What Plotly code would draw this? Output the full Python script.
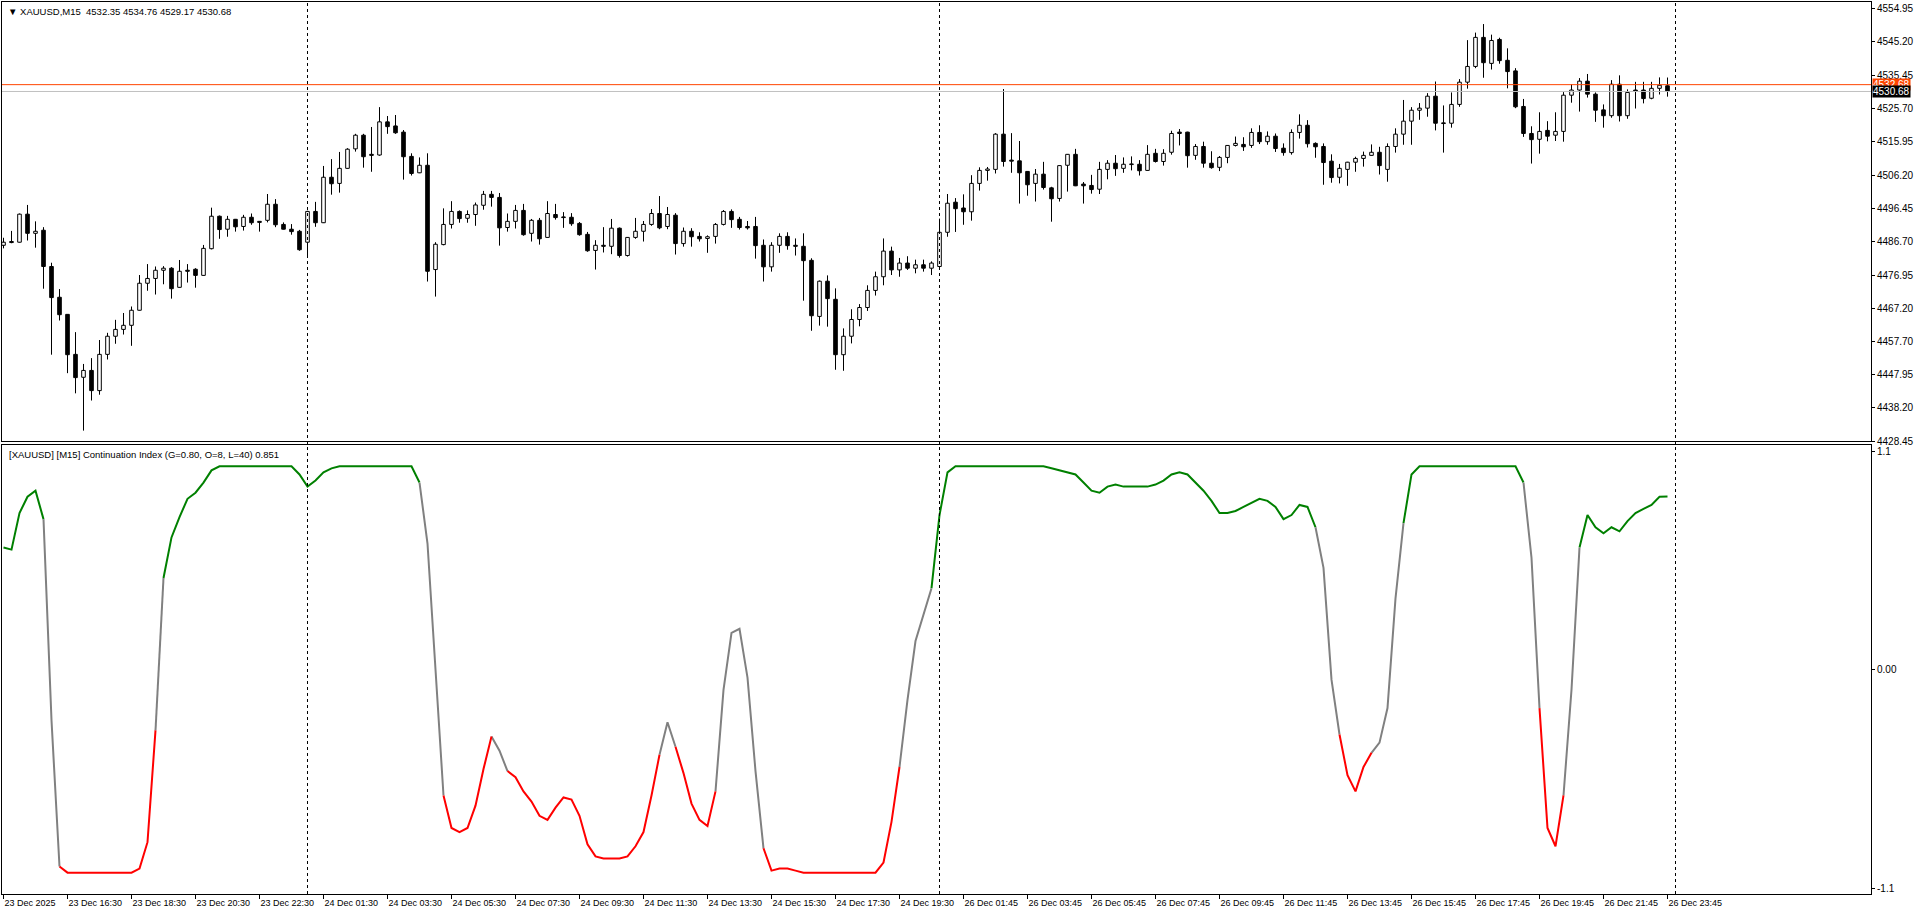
import plotly.graph_objects as go

# ---------------- data (XAUUSD M15 candles, bar index 0 = 23 Dec 14:30) ----------------
opens = [
    4485.7, 4486.8, 4486.6, 4494.8, 4489.2, 4490.1, 4479.5, 4470.5, 4465.5, 4453.8,
    4447.1, 4449.1, 4443.2, 4453.8, 4459.1, 4461.1, 4462.3, 4466.7, 4474.6, 4476.0,
    4478.4, 4479.0, 4473.4, 4478.4, 4478.7, 4476.9, 4484.7, 4494.2, 4490.4, 4493.3,
    4491.2, 4493.9, 4492.7, 4493.0, 4497.7, 4491.8, 4490.4, 4489.8, 4486.6, 4495.6,
    4492.3, 4505.6, 4503.8, 4508.2, 4513.9, 4517.9, 4512.3, 4512.1, 4521.8, 4520.6,
    4518.8, 4511.7, 4506.9, 4509.1, 4478.6, 4485.9, 4491.8, 4495.6, 4493.6, 4494.7,
    4497.4, 4500.6, 4499.7, 4490.9, 4492.7, 4495.9, 4489.2, 4493.0, 4488.0, 4494.7,
    4494.0, 4493.9, 4492.1, 4488.9, 4484.2, 4485.7, 4485.4, 4490.7, 4482.7, 4488.0,
    4489.8, 4491.8, 4495.0, 4491.2, 4494.5, 4486.2, 4489.8, 4488.3, 4487.7, 4488.3,
    4491.8, 4495.6, 4493.3, 4491.2, 4491.2, 4485.7, 4479.4, 4485.7, 4488.3, 4485.7,
    4485.4, 4481.3, 4464.9, 4475.2, 4469.9, 4453.7, 4459.1, 4464.0, 4467.5, 4472.5,
    4476.5, 4484.0, 4478.5, 4480.5, 4479.0, 4480.0, 4479.0, 4479.5, 4489.5, 4498.3,
    4496.6, 4495.5, 4503.8, 4507.6, 4507.9, 4518.2, 4510.6, 4510.4, 4507.3, 4503.8,
    4506.5, 4502.5, 4499.4, 4509.1, 4512.3, 4503.6, 4503.2, 4502.1, 4507.9, 4509.7,
    4508.2, 4509.3, 4509.4, 4507.6, 4512.6, 4510.2, 4512.9, 4518.8, 4518.8, 4512.0,
    4514.6, 4509.7, 4508.5, 4511.4, 4514.9, 4515.2, 4514.9, 4518.7, 4516.0, 4517.6,
    4514.1, 4512.8, 4518.7, 4520.8, 4515.5, 4514.6, 4510.3, 4505.6, 4507.9, 4510.0,
    4511.1, 4512.0, 4512.9, 4507.9, 4514.6, 4518.2, 4522.0, 4525.2, 4525.8, 4529.3,
    4521.5, 4521.4, 4526.9, 4533.4, 4538.0, 4546.5, 4538.9, 4545.9, 4539.8, 4536.7,
    4526.3, 4518.4, 4516.7, 4519.3, 4517.9, 4519.0, 4529.6, 4531.1, 4533.7, 4529.9,
    4525.3, 4523.6, 4532.8, 4523.6, 4531.1, 4531.1, 4528.7, 4531.6, 4532.35,
]
highs = [
    4487.9, 4489.9, 4495.0, 4497.5, 4492.7, 4491.0, 4480.6, 4472.9, 4465.6, 4460.3,
    4451.0, 4452.7, 4458.0, 4460.1, 4463.9, 4465.9, 4467.8, 4477.0, 4480.2, 4479.5,
    4479.6, 4479.3, 4481.4, 4480.2, 4479.0, 4485.8, 4496.7, 4494.4, 4494.3, 4493.4,
    4494.6, 4495.0, 4492.8, 4500.7, 4499.2, 4492.4, 4491.9, 4490.2, 4495.8, 4498.4,
    4508.9, 4510.9, 4513.0, 4514.1, 4518.3, 4518.3, 4520.3, 4526.1, 4523.5, 4523.8,
    4519.4, 4512.6, 4511.4, 4512.6, 4486.6, 4496.5, 4498.6, 4495.9, 4495.9, 4498.2,
    4501.6, 4501.6, 4501.0, 4495.0, 4497.5, 4497.8, 4493.4, 4493.7, 4498.6, 4497.8,
    4495.4, 4495.1, 4492.5, 4489.6, 4487.2, 4491.0, 4493.4, 4490.9, 4488.1, 4493.7,
    4492.8, 4496.3, 4500.1, 4496.9, 4495.1, 4490.9, 4490.7, 4489.5, 4488.6, 4492.2,
    4496.0, 4496.2, 4494.0, 4492.8, 4494.0, 4487.4, 4486.6, 4489.2, 4489.5, 4487.7,
    4489.2, 4481.9, 4475.4, 4476.9, 4473.1, 4461.4, 4467.0, 4468.5, 4474.0, 4478.0,
    4487.7, 4485.3, 4482.0, 4482.5, 4481.5, 4481.5, 4481.0, 4493.5, 4500.7, 4499.5,
    4500.6, 4506.2, 4508.5, 4508.6, 4518.5, 4531.4, 4518.5, 4516.2, 4507.4, 4508.0,
    4510.1, 4502.8, 4509.1, 4512.4, 4513.9, 4504.2, 4506.3, 4510.1, 4510.6, 4512.1,
    4511.4, 4511.7, 4510.6, 4515.0, 4513.9, 4513.8, 4519.2, 4519.7, 4518.9, 4515.3,
    4516.0, 4513.2, 4511.8, 4515.0, 4517.5, 4517.3, 4519.9, 4520.8, 4519.0, 4518.4,
    4515.5, 4519.6, 4524.0, 4522.3, 4515.8, 4515.5, 4512.3, 4509.5, 4510.1, 4511.6,
    4513.1, 4515.2, 4514.5, 4515.5, 4519.9, 4528.2, 4526.1, 4527.3, 4530.2, 4533.6,
    4526.6, 4530.4, 4534.3, 4545.7, 4547.9, 4550.4, 4547.3, 4546.4, 4543.3, 4537.5,
    4528.5, 4520.5, 4524.6, 4522.0, 4524.6, 4530.5, 4532.8, 4534.6, 4535.8, 4530.4,
    4526.9, 4534.0, 4535.4, 4531.3, 4533.5, 4533.5, 4533.5, 4534.8, 4534.76,
]
lows = [
    4484.8, 4486.3, 4486.5, 4487.1, 4485.0, 4473.0, 4453.7, 4463.7, 4448.3, 4442.4,
    4431.5, 4440.3, 4442.0, 4452.3, 4456.9, 4459.6, 4456.3, 4466.6, 4472.4, 4471.3,
    4474.3, 4470.1, 4473.3, 4474.8, 4473.3, 4476.8, 4484.5, 4487.6, 4488.2, 4489.7,
    4490.0, 4491.7, 4489.7, 4492.4, 4491.0, 4490.3, 4488.8, 4484.1, 4482.4, 4491.1,
    4492.2, 4500.5, 4501.1, 4508.1, 4513.1, 4508.4, 4507.2, 4511.9, 4518.3, 4518.3,
    4504.9, 4506.1, 4506.8, 4475.1, 4470.7, 4485.7, 4490.6, 4492.3, 4492.3, 4491.4,
    4496.1, 4497.0, 4485.6, 4489.7, 4490.6, 4488.5, 4486.8, 4485.9, 4487.9, 4493.2,
    4490.8, 4491.4, 4488.5, 4483.8, 4478.6, 4483.6, 4483.1, 4482.1, 4482.4, 4487.6,
    4486.8, 4491.4, 4490.4, 4490.4, 4483.0, 4485.3, 4485.3, 4486.8, 4483.5, 4486.2,
    4491.5, 4490.8, 4490.3, 4490.3, 4481.8, 4475.1, 4478.0, 4483.5, 4484.4, 4482.7,
    4469.5, 4460.7, 4462.2, 4461.9, 4449.3, 4449.0, 4457.0, 4462.0, 4466.5, 4471.0,
    4474.0, 4477.0, 4476.5, 4478.5, 4477.5, 4478.0, 4477.0, 4478.5, 4488.2, 4489.6,
    4491.7, 4492.9, 4501.7, 4504.6, 4506.7, 4508.7, 4506.9, 4497.9, 4500.2, 4498.5,
    4502.0, 4492.6, 4498.5, 4501.4, 4503.0, 4497.9, 4500.8, 4500.7, 4505.0, 4506.0,
    4506.9, 4507.6, 4506.1, 4507.5, 4509.9, 4509.0, 4512.2, 4514.9, 4508.4, 4510.7,
    4508.4, 4508.1, 4507.4, 4509.7, 4514.6, 4513.3, 4514.2, 4515.3, 4515.1, 4513.0,
    4511.9, 4512.2, 4516.9, 4514.3, 4511.3, 4503.4, 4504.0, 4503.8, 4503.1, 4507.2,
    4508.7, 4511.9, 4506.4, 4504.3, 4512.8, 4515.1, 4515.1, 4522.4, 4523.3, 4519.3,
    4512.8, 4520.1, 4526.2, 4531.5, 4537.5, 4534.7, 4537.1, 4538.8, 4531.6, 4525.8,
    4517.4, 4509.6, 4512.5, 4516.1, 4516.2, 4516.0, 4527.4, 4524.8, 4528.9, 4521.8,
    4520.1, 4523.0, 4521.9, 4522.7, 4525.7, 4527.2, 4528.4, 4529.8, 4529.17,
]
closes = [
    4486.6, 4486.5, 4494.8, 4489.2, 4489.8, 4479.5, 4470.4, 4465.4, 4453.7, 4447.0,
    4449.1, 4443.2, 4453.8, 4459.1, 4461.1, 4462.3, 4466.7, 4474.6, 4476.0, 4478.4,
    4479.0, 4473.0, 4478.1, 4478.1, 4476.9, 4484.8, 4494.2, 4490.3, 4493.3, 4491.1,
    4493.9, 4492.3, 4492.4, 4497.7, 4491.7, 4490.4, 4489.7, 4484.4, 4495.6, 4492.3,
    4505.6, 4503.7, 4508.2, 4513.8, 4517.9, 4511.6, 4512.0, 4521.8, 4520.4, 4518.6,
    4511.6, 4506.7, 4509.1, 4478.1, 4486.0, 4491.8, 4495.6, 4493.5, 4494.7, 4497.5,
    4500.6, 4499.7, 4490.8, 4492.7, 4495.9, 4488.8, 4493.0, 4487.6, 4495.0, 4493.8,
    4493.8, 4492.0, 4488.8, 4484.1, 4485.7, 4485.4, 4490.7, 4482.7, 4488.0, 4489.8,
    4491.8, 4495.0, 4490.8, 4494.7, 4486.2, 4489.8, 4488.2, 4487.6, 4488.2, 4491.8,
    4495.6, 4493.2, 4490.9, 4490.8, 4485.6, 4479.4, 4485.7, 4488.3, 4485.6, 4485.4,
    4481.2, 4465.1, 4475.2, 4470.1, 4453.7, 4459.1, 4464.0, 4467.5, 4472.5, 4476.5,
    4484.0, 4478.5, 4480.5, 4479.0, 4480.0, 4479.0, 4480.5, 4489.5, 4498.0, 4496.4,
    4495.5, 4503.8, 4507.6, 4508.0, 4518.2, 4510.2, 4510.3, 4506.9, 4503.4, 4506.5,
    4502.6, 4499.3, 4509.0, 4512.3, 4503.1, 4503.1, 4502.0, 4507.9, 4509.7, 4508.1,
    4509.4, 4509.5, 4507.5, 4512.3, 4510.2, 4512.6, 4518.4, 4518.4, 4511.9, 4514.6,
    4509.7, 4508.4, 4511.4, 4514.9, 4515.5, 4514.5, 4518.7, 4516.0, 4517.6, 4514.0,
    4512.8, 4518.7, 4520.8, 4515.4, 4514.5, 4509.9, 4505.5, 4508.2, 4510.0, 4511.1,
    4512.0, 4512.9, 4509.0, 4514.6, 4518.2, 4522.0, 4525.2, 4525.8, 4529.3, 4521.4,
    4521.3, 4526.9, 4533.4, 4538.0, 4546.5, 4539.1, 4545.6, 4539.7, 4536.5, 4526.2,
    4518.4, 4516.6, 4519.0, 4517.6, 4519.0, 4529.6, 4531.1, 4533.7, 4529.9, 4525.2,
    4523.6, 4532.8, 4523.6, 4530.4, 4530.7, 4528.6, 4531.6, 4532.5, 4530.68,
]

# Continuation Index, one value per bar
ci_values = [
    0.60, 0.59, 0.77, 0.85, 0.88, 0.74, -0.25, -0.97, -1.00, -1.00,
    -1.00, -1.00, -1.00, -1.00, -1.00, -1.00, -1.00, -0.98, -0.85, -0.30,
    0.45, 0.65, 0.75, 0.84, 0.87, 0.92, 0.98, 1.00, 1.00, 1.00,
    1.00, 1.00, 1.00, 1.00, 1.00, 1.00, 1.00, 0.96, 0.90, 0.93,
    0.97, 0.99, 1.00, 1.00, 1.00, 1.00, 1.00, 1.00, 1.00, 1.00,
    1.00, 1.00, 0.92, 0.62, 0.00, -0.62, -0.78, -0.80, -0.78, -0.67,
    -0.49, -0.33, -0.40, -0.50, -0.53, -0.60, -0.65, -0.72, -0.74, -0.68,
    -0.63, -0.64, -0.72, -0.86, -0.92, -0.93, -0.93, -0.93, -0.92, -0.87,
    -0.80, -0.62, -0.42, -0.26, -0.38, -0.51, -0.66, -0.74, -0.77, -0.60,
    -0.10, 0.18, 0.20, -0.04, -0.50, -0.88, -0.99, -0.98, -0.98, -0.99,
    -1.00, -1.00, -1.00, -1.00, -1.00, -1.00, -1.00, -1.00, -1.00, -1.00,
    -0.95, -0.75, -0.48, -0.15, 0.14, 0.27, 0.40, 0.76, 0.97, 1.00,
    1.00, 1.00, 1.00, 1.00, 1.00, 1.00, 1.00, 1.00, 1.00, 1.00,
    1.00, 0.99, 0.98, 0.97, 0.96, 0.92, 0.88, 0.87, 0.90, 0.91,
    0.90, 0.90, 0.90, 0.90, 0.91, 0.93, 0.96, 0.97, 0.96, 0.92,
    0.88, 0.83, 0.77, 0.77, 0.78, 0.80, 0.82, 0.84, 0.83, 0.80,
    0.74, 0.76, 0.81, 0.80, 0.70, 0.50, -0.05, -0.32, -0.52, -0.60,
    -0.48, -0.41, -0.36, -0.19, 0.35, 0.72, 0.96, 1.00, 1.00, 1.00,
    1.00, 1.00, 1.00, 1.00, 1.00, 1.00, 1.00, 1.00, 1.00, 1.00,
    0.92, 0.55, -0.19, -0.78, -0.87, -0.62, -0.10, 0.60, 0.76, 0.70,
    0.67, 0.70, 0.68, 0.73, 0.77, 0.79, 0.81, 0.85, 0.851,
]
# colour state runs of the index line: g = trend (green), n = neutral (gray), r = range (red)
ci_state_runs = [
    ("g", 6), ("n", 2), ("r", 12), ("n", 1), ("g", 32), ("n", 3), ("r", 6), ("n", 2),
    ("r", 19), ("n", 2), ("r", 5), ("n", 6), ("r", 17), ("n", 4), ("g", 48), ("n", 3),
    ("r", 4), ("n", 4), ("g", 15), ("n", 2), ("r", 3), ("n", 2), ("g", 11),
]

time_tick_bars = [0, 8, 16, 24, 32, 40, 48, 56, 64, 72, 80, 88, 96, 104, 112,
                  120, 128, 136, 144, 152, 160, 168, 176, 184, 192, 200, 208]
time_tick_labels = [
    "23 Dec 2025", "23 Dec 16:30", "23 Dec 18:30", "23 Dec 20:30", "23 Dec 22:30",
    "24 Dec 01:30", "24 Dec 03:30", "24 Dec 05:30", "24 Dec 07:30", "24 Dec 09:30",
    "24 Dec 11:30", "24 Dec 13:30", "24 Dec 15:30", "24 Dec 17:30", "24 Dec 19:30",
    "26 Dec 01:45", "26 Dec 03:45", "26 Dec 05:45", "26 Dec 07:45", "26 Dec 09:45",
    "26 Dec 11:45", "26 Dec 13:45", "26 Dec 15:45", "26 Dec 17:45", "26 Dec 19:45",
    "26 Dec 21:45", "26 Dec 23:45",
]
price_ticks = [4554.95, 4545.20, 4535.45, 4525.70, 4515.95, 4506.20, 4496.45,
               4486.70, 4476.95, 4467.20, 4457.70, 4447.95, 4438.20, 4428.45]
ci_ticks = [1.1, 0.0, -1.1]
ci_tick_labels = ["1.1", "0.00", "-1.1"]
day_separator_bars = [38, 117, 209]
ask_price = 4532.68
bid_price = 4530.68
symbol_title = "\u25bc XAUUSD,M15\u00a0\u00a04532.35 4534.76 4529.17 4530.68"
indicator_title = "[XAUUSD] [M15] Continuation Index (G=0.80, O=8, L=40) 0.851"

# ---------------- figure ----------------
FONT = "Liberation Sans, Arial, DejaVu Sans, sans-serif"
n = len(opens)
idx = list(range(n))

fig = go.Figure()

# wicks (upper and lower parts, so the body is not crossed)
wx, wy = [], []
for i in idx:
    top = max(opens[i], closes[i])
    bot = min(opens[i], closes[i])
    wx += [i, i, None, i, i, None]
    wy += [top, highs[i], None, bot, lows[i], None]
fig.add_trace(go.Scatter(x=wx, y=wy, mode="lines", line=dict(color="black", width=1),
                         hoverinfo="skip", xaxis="x", yaxis="y"))

for bull in (True, False):
    sel = [i for i in idx if (closes[i] >= opens[i]) == bull]
    fig.add_trace(go.Bar(
        x=sel,
        base=[min(opens[i], closes[i]) for i in sel],
        y=[max(abs(closes[i] - opens[i]), 0.08) for i in sel],
        width=0.45,
        marker=dict(color="white" if bull else "black", line=dict(color="black", width=1)),
        hoverinfo="skip", xaxis="x", yaxis="y",
    ))

# indicator line coloured by state
states = []
for s, k in ci_state_runs:
    states += [s] * k
colors = {"g": "#008000", "n": "#808080", "r": "#FF0000"}
for s, col in colors.items():
    ys = []
    for i in idx:
        use = states[i] == s or (i + 1 < n and states[i + 1] == s)
        ys.append(ci_values[i] if use else None)
    fig.add_trace(go.Scatter(x=idx, y=ys, mode="lines", line=dict(color=col, width=2),
                             connectgaps=False, hoverinfo="skip", xaxis="x2", yaxis="y2"))

x_range = [-0.1875, 233.4375]
top_dom = [0.5078, 1.0]
bot_dom = [0.0, 0.5034]
axis_common = dict(showgrid=False, zeroline=False, showline=True, mirror=True,
                   linecolor="black", linewidth=1)

fig.update_layout(
    width=1916, height=915,
    margin=dict(l=2, r=45, t=2, b=21),
    paper_bgcolor="white", plot_bgcolor="white",
    showlegend=False, barmode="overlay",
    font=dict(family=FONT, color="black"),
    xaxis=dict(domain=[0, 1], anchor="y", range=x_range, showticklabels=False, ticks="",
               **axis_common),
    yaxis=dict(domain=top_dom, anchor="x", side="right", range=[4428.45, 4556.85],
               tickmode="array", tickvals=price_ticks, ticktext=[f"{v:.2f}" for v in price_ticks],
               ticks="outside", ticklen=3, tickcolor="black",
               tickfont=dict(family=FONT, size=10, color="black"), **axis_common),
    xaxis2=dict(domain=[0, 1], anchor="y2", range=x_range, matches="x",
                tickmode="array", tickvals=time_tick_bars, ticktext=time_tick_labels,
                ticks="outside", ticklen=4, tickcolor="black", ticklabelposition="outside right",
                tickfont=dict(family=FONT, size=9, color="black"), **axis_common),
    yaxis2=dict(domain=bot_dom, anchor="x2", side="right", range=[-1.105, 1.105],
                tickmode="array", tickvals=[1.075, 0.0, -1.08], ticktext=ci_tick_labels,
                ticks="outside", ticklen=3, tickcolor="black",
                tickfont=dict(family=FONT, size=10, color="black"), **axis_common),
)

shapes = []
for b in day_separator_bars:
    shapes.append(dict(type="line", xref="x", yref="paper", x0=b, x1=b, y0=0, y1=1,
                       line=dict(color="black", width=1, dash="3px,3px"), layer="above"))
shapes.append(dict(type="line", xref="paper", yref="y", x0=0, x1=1, y0=bid_price, y1=bid_price,
                   line=dict(color="#C0C0C0", width=1)))
shapes.append(dict(type="line", xref="paper", yref="y", x0=0, x1=1, y0=ask_price, y1=ask_price,
                   line=dict(color="#FF4500", width=1)))
fig.update_layout(shapes=shapes)

annotations = [
    dict(xref="paper", yref="y", x=1, y=ask_price, xanchor="left", yanchor="middle", xshift=1,
         text=f"{ask_price:.2f}", showarrow=False, bgcolor="#FF4500", borderpad=0,
         font=dict(family=FONT, size=10, color="white")),
    dict(xref="paper", yref="y", x=1, y=bid_price, xanchor="left", yanchor="middle", xshift=1,
         text=f"{bid_price:.2f}", showarrow=False, bgcolor="black", borderpad=0,
         font=dict(family=FONT, size=10, color="white")),
    dict(xref="paper", yref="paper", x=0, y=1, xanchor="left", yanchor="top", xshift=4, yshift=-2,
         text=symbol_title, showarrow=False, font=dict(family=FONT, size=9.5, color="black")),
    dict(xref="paper", yref="paper", x=0, y=bot_dom[1], xanchor="left", yanchor="top", xshift=5,
         yshift=-2, text=indicator_title, showarrow=False,
         font=dict(family=FONT, size=9.5, color="black")),
]
fig.update_layout(annotations=annotations)

fig.write_html(
    "out.html",
    config={"displayModeBar": False},
    post_script="document.body.style.margin='0';document.body.style.padding='0';"
                "document.body.style.overflow='hidden';",
)
